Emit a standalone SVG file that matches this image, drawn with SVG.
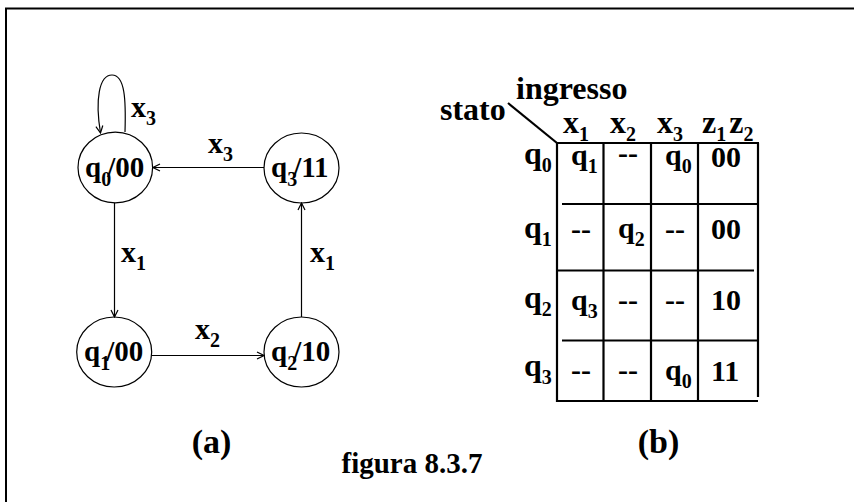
<svg xmlns="http://www.w3.org/2000/svg" width="854" height="502" viewBox="0 0 854 502">
<defs>
<style>
text{font-family:"Liberation Serif","Times New Roman",serif;font-weight:bold;font-size:30px;fill:#000}
.s{font-size:20px}
.h{font-size:32px}
.n{font-size:29px}
.c{fill:none;stroke:#000;stroke-width:1.2}
.e{fill:none;stroke:#000;stroke-width:1.2}
.t{stroke:#000;stroke-width:2.2;fill:none}
.m{text-anchor:middle}
</style>
<marker id="ah" markerWidth="10" markerHeight="10" refX="9" refY="5" orient="auto" markerUnits="userSpaceOnUse">
<polyline points="2,1.5 9,5 2,8.5" fill="none" stroke="#000" stroke-width="1.2"/>
</marker>
</defs>
<rect x="0" y="0" width="854" height="502" fill="#fff"/>
<path d="M6,520 V8.5 H870" fill="none" stroke="#000" stroke-width="2"/>

<g id="connectors">
<path class="e" d="M125,132 C126,100 125,75 112,75 C99,75 95,100 100.5,133" marker-end="url(#ah)"/>
<line class="e" x1="264" y1="167.5" x2="153" y2="167.5" marker-end="url(#ah)"/>
<line class="e" x1="114.5" y1="203" x2="114.5" y2="317" marker-end="url(#ah)"/>
<line class="e" x1="301.5" y1="317" x2="301.5" y2="203" marker-end="url(#ah)"/>
<line class="e" x1="151.5" y1="355.5" x2="264" y2="355.5" marker-end="url(#ah)"/>
<text x="131" y="117">x<tspan class="s" dy="8">3</tspan></text>
<text x="208" y="153">x<tspan class="s" dy="8">3</tspan></text>
<text x="121" y="262">x<tspan class="s" dy="8">1</tspan></text>
<text x="310" y="262">x<tspan class="s" dy="8">1</tspan></text>
<text x="195" y="339">x<tspan class="s" dy="8">2</tspan></text>
</g>

<g id="q0">
<ellipse class="c" cx="115.3" cy="167.5" rx="37.3" ry="35.3"/>
<text class="n" x="85" y="177">q<tspan class="s" dy="9">0</tspan><tspan dy="-9" dx="-4">/00</tspan></text>
</g>
<g id="q3">
<ellipse class="c" cx="301.5" cy="168" rx="37.5" ry="35"/>
<text class="n" x="271" y="177">q<tspan class="s" dy="9">3</tspan><tspan dy="-9" dx="-4">/11</tspan></text>
</g>
<g id="q1">
<ellipse class="c" cx="114.2" cy="352" rx="37.5" ry="35"/>
<text class="n" x="84" y="361">q<tspan class="s" dy="9">1</tspan><tspan dy="-9" dx="-4">/00</tspan></text>
</g>
<g id="q2">
<ellipse class="c" cx="301.5" cy="352" rx="37.5" ry="35"/>
<text class="n" x="271" y="361">q<tspan class="s" dy="9">2</tspan><tspan dy="-9" dx="-4">/10</tspan></text>
</g>

<g id="table">
<line class="t" x1="508" y1="103" x2="557" y2="143"/>
<path class="t" d="M557,143 H759 M557,143 V401 H758 M758,143 V397 M603.5,143 V401 M651,143 V401 M698,143 V401 M562,204 H758 M557,270.5 H754 M562,340.5 H758"/>
<text class="h" x="440" y="120">stato</text>
<text class="h" x="516" y="99">ingresso</text>
<text class="h" x="563" y="133">x<tspan class="s" dy="8">1</tspan></text>
<text class="h" x="610" y="133">x<tspan class="s" dy="8">2</tspan></text>
<text class="h" x="657" y="133">x<tspan class="s" dy="8">3</tspan></text>
<text class="h" x="702" y="133">z<tspan class="s" dy="8">1</tspan><tspan dy="-8" dx="3">z</tspan><tspan class="s" dy="8">2</tspan></text>

<text class="h" x="524" y="164">q<tspan class="s" dy="8">0</tspan></text>
<text class="h" x="524" y="238">q<tspan class="s" dy="8">1</tspan></text>
<text class="h" x="524" y="308">q<tspan class="s" dy="8">2</tspan></text>
<text class="h" x="524" y="376">q<tspan class="s" dy="8">3</tspan></text>

<text x="571" y="165">q<tspan class="s" dy="8">1</tspan></text>
<text x="618" y="163">--</text>
<text x="665" y="165">q<tspan class="s" dy="8">0</tspan></text>
<text x="711" y="167">00</text>

<text x="571" y="239">--</text>
<text x="618" y="238">q<tspan class="s" dy="8">2</tspan></text>
<text x="665" y="239">--</text>
<text x="711" y="239">00</text>

<text x="571" y="310">q<tspan class="s" dy="8">3</tspan></text>
<text x="618" y="310">--</text>
<text x="665" y="310">--</text>
<text x="711" y="310">10</text>

<text x="571" y="380">--</text>
<text x="618" y="380">--</text>
<text x="665" y="380">q<tspan class="s" dy="8">0</tspan></text>
<text x="711" y="381">11</text>
</g>

<text class="m" x="211.5" y="453" style="font-size:34px">(a)</text>
<text class="m" x="658.5" y="453" style="font-size:34px">(b)</text>
<text class="m" x="412" y="473" style="font-size:29px">figura 8.3.7</text>
</svg>
